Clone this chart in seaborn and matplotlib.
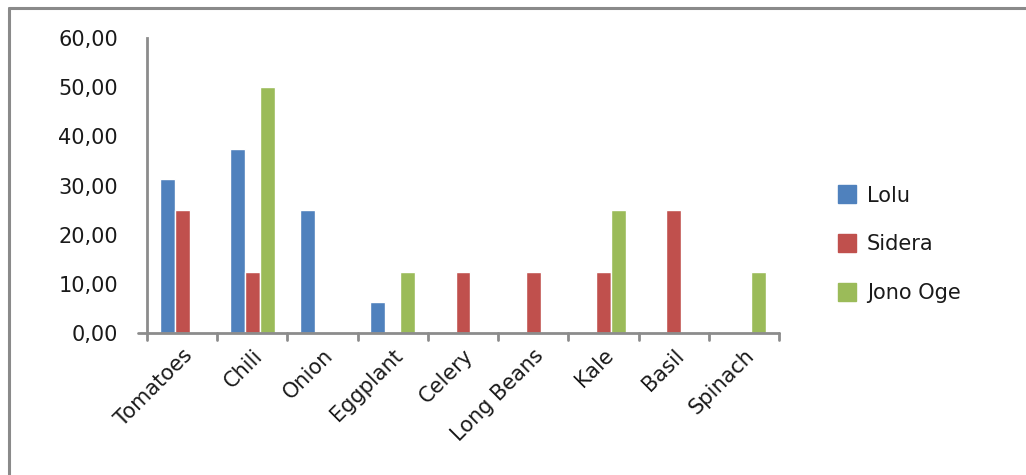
import matplotlib
matplotlib.use("Agg")
import matplotlib.pyplot as plt
from matplotlib.lines import Line2D
import seaborn as sns
import pandas as pd

categories = ["Tomatoes", "Chili", "Onion", "Eggplant", "Celery",
              "Long Beans", "Kale", "Basil", "Spinach"]
lolu = [31.25, 37.5, 25.0, 6.25, 0, 0, 0, 0, 0]
sidera = [25.0, 12.5, 0, 0, 12.5, 12.5, 12.5, 25.0, 0]
jono_oge = [0, 50.0, 0, 12.5, 0, 0, 25.0, 0, 12.5]
series_names = ["Lolu", "Sidera", "Jono Oge"]
y_ticks = [0, 10, 20, 30, 40, 50, 60]

palette = ["#4F81BD", "#C0504D", "#9BBB59"]

df = pd.DataFrame({
    "category": categories * 3,
    "value": lolu + sidera + jono_oge,
    "series": [s for s in series_names for _ in categories],
})

sns.set_style("white")
plt.rcParams["font.family"] = ["DejaVu Sans"]

fs = 15
txt = "#1a1a1a"
fig = plt.figure(figsize=(10.26, 4.75), dpi=100)
ax = fig.add_axes([147 / 1026, 1 - 333 / 475, (779 - 147) / 1026, (333 - 38) / 475])

sns.barplot(data=df, x="category", y="value", hue="series",
            order=categories, hue_order=series_names, palette=palette,
            width=0.64, saturation=1, ax=ax, legend=False, errorbar=None)

grey = "#8c8c8c"
ax.set_xlim(-0.5, len(categories) - 0.5)
ax.set_ylim(0, 60)
ax.set_yticks(y_ticks)
ax.set_yticklabels([f"{v:.2f}".replace(".", ",") for v in y_ticks], fontsize=fs,
                   color=txt)
ax.set_xticks(range(len(categories)))
ax.set_xticklabels(categories, rotation=45, ha="right", rotation_mode="anchor",
                   fontsize=fs, color=txt)
ax.tick_params(axis="x", length=0, pad=9)
ax.tick_params(axis="y", length=7, width=2, color=grey, direction="out", pad=14)
# category boundary ticks on the x axis
for b in [i - 0.5 for i in range(len(categories) + 1)]:
    ax.plot([b, b], [0, -1.4], color=grey, lw=2, clip_on=False)
ax.plot([-0.63, len(categories) - 0.5], [0, 0], color=grey, lw=2, clip_on=False)
for side in ["top", "right", "bottom"]:
    ax.spines[side].set_visible(False)
ax.spines["left"].set_color(grey)
ax.spines["left"].set_linewidth(2)
ax.set_xlabel("")
ax.set_ylabel("")

handles = [Line2D([], [], marker="s", linestyle="none", markersize=12.5,
                  markerfacecolor=c, markeredgecolor=c) for c in palette]
fig.legend(handles, series_names, loc="upper left",
           bbox_to_anchor=(818 / 1026, 1 - 167 / 475), frameon=False,
           fontsize=fs, handletextpad=0.45, labelspacing=1.38,
           handlelength=1.0, labelcolor=txt)

# outer chart frame
fig.add_artist(Line2D([9 / 1026, 9 / 1026], [0, 1 - 8 / 475], color="#8a8a8a",
                      lw=2.2, transform=fig.transFigure))
fig.add_artist(Line2D([9 / 1026, 1], [1 - 8 / 475, 1 - 8 / 475], color="#8a8a8a",
                      lw=2.2, transform=fig.transFigure))

fig.savefig("out.png", dpi=100)
